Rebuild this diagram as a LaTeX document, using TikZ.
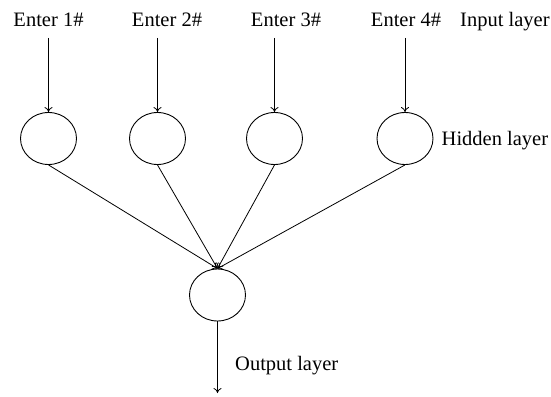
\documentclass[tikz,border=0pt]{standalone}
\usepackage{fontspec}
\setmainfont{Liberation Serif}
\usetikzlibrary{shapes.geometric,arrows.meta}
\begin{document}
\begin{tikzpicture}[x=1pt,y=-1pt,
  neuron/.style={draw,ellipse,line width=0.9pt,minimum width=56pt,minimum height=52pt,inner sep=0pt},
  lbl/.style={font=\fontsize{20.5}{24}\selectfont,inner sep=0pt},
  link/.style={line width=0.8pt,-{To[length=5pt,width=8pt]}}]
\useasboundingbox (0,0) rectangle (551,396);
% input labels
\node[lbl,anchor=base] (t1) at (48.5,27) {Enter 1\#};
\node[lbl,anchor=base] (t2) at (167,27) {Enter 2\#};
\node[lbl,anchor=base] (t3) at (286,27) {Enter 3\#};
\node[lbl,anchor=base] (t4) at (406,27) {Enter 4\#};
\node[lbl,anchor=base west] (li) at (460,27) {Input layer};
% hidden layer
\node[neuron] (h1) at (48.5,138.5) {};
\node[neuron] (h2) at (157.5,138.5) {};
\node[neuron] (h3) at (274.5,138.5) {};
\node[neuron] (h4) at (405,138.5) {};
\node[lbl,anchor=base west] (lh) at (441.5,145.5) {Hidden layer};
% output layer
\node[neuron] (o) at (217.5,295) {};
\node[lbl,anchor=base west] (lo) at (235,370) {Output layer};
% arrow tails
\coordinate (i1) at (48.5,38);
\coordinate (i2) at (157.5,38);
\coordinate (i3) at (274.5,38);
\coordinate (i4) at (405,38);
\coordinate (out) at (217.5,393);
% connectors
\foreach \k in {1,2,3,4}{
  \draw[link] (i\k) -- (h\k.north);
  \draw[link] (h\k.south) -- (o.north);
}
\draw[link] (o.south) -- (out);
\end{tikzpicture}
\end{document}
